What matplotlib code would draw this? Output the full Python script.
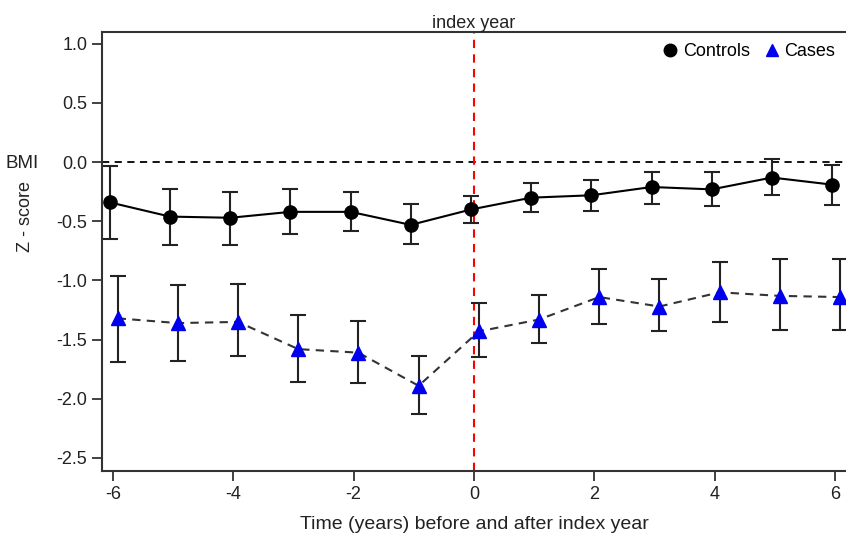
import matplotlib.pyplot as plt
import numpy as np
from matplotlib.lines import Line2D

plt.rcParams['font.family'] = ['Liberation Sans', 'DejaVu Sans']
plt.rcParams['axes.unicode_minus'] = False

# Years relative to index year
years = np.arange(-6, 7)

# Controls: mean Z-score and error bar limits
ctrl_mean = [-0.34, -0.46, -0.47, -0.42, -0.42, -0.53, -0.40, -0.30, -0.28, -0.21, -0.23, -0.13, -0.19]
ctrl_low = [-0.65, -0.70, -0.70, -0.61, -0.58, -0.69, -0.51, -0.42, -0.41, -0.35, -0.37, -0.28, -0.36]
ctrl_high = [-0.03, -0.23, -0.25, -0.23, -0.25, -0.35, -0.29, -0.18, -0.15, -0.08, -0.08, 0.03, -0.02]

# Cases: mean Z-score and error bar limits
case_mean = [-1.32, -1.36, -1.35, -1.58, -1.61, -1.89, -1.43, -1.33, -1.14, -1.22, -1.10, -1.13, -1.14]
case_low = [-1.69, -1.68, -1.64, -1.86, -1.87, -2.13, -1.65, -1.53, -1.37, -1.43, -1.35, -1.42, -1.42]
case_high = [-0.96, -1.04, -1.03, -1.29, -1.34, -1.64, -1.19, -1.12, -0.90, -0.99, -0.84, -0.82, -0.82]

fig = plt.figure(figsize=(8.46, 5.49), dpi=100)
ax = fig.add_axes([102 / 846, 1 - 471 / 549, 744 / 846, 439 / 549])

ax.axhline(0, color='black', ls=(0, (4, 3)), lw=1.3, zorder=1)
ax.axvline(0, color='red', ls=(0, (4, 3)), lw=1.5, zorder=1)

xc = years - 0.05
xk = years + 0.08

ctrl_mean = np.array(ctrl_mean)
case_mean = np.array(case_mean)
ctrl_err = [ctrl_mean - np.array(ctrl_low), np.array(ctrl_high) - ctrl_mean]
case_err = [case_mean - np.array(case_low), np.array(case_high) - case_mean]

ax.errorbar(xc, ctrl_mean, yerr=ctrl_err, fmt='none', ecolor='#222222',
            elinewidth=1.5, capsize=6, capthick=1.5, zorder=2)
ax.plot(xc, ctrl_mean, color='black', lw=1.5, marker='o', ms=9.5, zorder=3)

ax.errorbar(xk, case_mean, yerr=case_err, fmt='none', ecolor='#222222',
            elinewidth=1.5, capsize=6, capthick=1.5, zorder=2)
ax.plot(xk, case_mean, color='#333333', lw=1.5, ls=(0, (4, 3)), zorder=3)
ax.plot(xk, case_mean, ls='none', marker='^', ms=9.5, color='#0000ee', zorder=4)

ax.set_xlim(-6.18, 6.18)
ax.set_ylim(-2.61, 1.10)
ax.set_xticks([-6, -4, -2, 0, 2, 4, 6])
ax.set_yticks([1.0, 0.5, 0.0, -0.5, -1.0, -1.5, -2.0, -2.5])
ax.set_yticklabels(['1.0', '0.5', '0.0', '-0.5', '-1.0', '-1.5', '-2.0', '-2.5'])
ax.tick_params(labelsize=13, length=7, width=1.3, color='#333333', labelcolor='#222222')

for s in ['left', 'bottom', 'top']:
    ax.spines[s].set_linewidth(1.5)
    ax.spines[s].set_color('#333333')
ax.spines['right'].set_visible(False)

ax.set_xlabel('Time (years) before and after index year', fontsize=14,
              color='#222222', labelpad=10)
fig.text(26 / 846, 1 - 216 / 549, 'Z - score', rotation=90, fontsize=13,
         color='#222222', ha='center', va='center')
fig.text(22 / 846, 1 - 163 / 549, 'BMI', fontsize=13.5, color='#222222',
         ha='center', va='center')
ax.text(0, 1.0, 'index year', transform=ax.get_xaxis_transform(), fontsize=13,
        color='#222222', ha='center', va='bottom')

handles = [Line2D([], [], ls='none', marker='o', ms=9, color='black'),
           Line2D([], [], ls='none', marker='^', ms=9, color='#0000ee')]
ax.legend(handles, ['Controls', 'Cases'], loc='upper right', ncol=2,
          frameon=False, fontsize=13, handletextpad=0.1, columnspacing=0.6,
          handlelength=1.2, borderaxespad=0.2)

fig.savefig('out.png', dpi=100)
